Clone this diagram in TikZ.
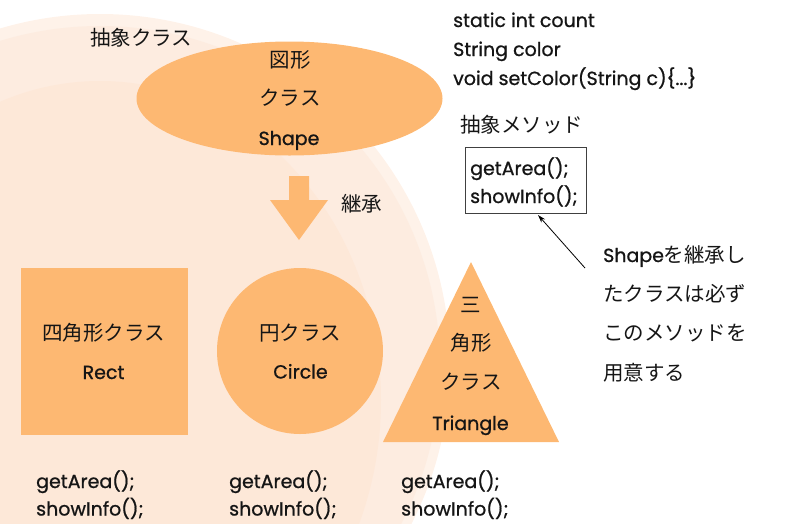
\documentclass[tikz,border=0pt]{standalone}
\usepackage{fontspec}
\setmainfont{Poppins}[FakeBold=0.9]
\newfontfamily\jpfont{Noto Sans CJK JP}
\usetikzlibrary{shapes.geometric,arrows.meta}

\definecolor{orng}{HTML}{FDB872}
\definecolor{rimlight}{HTML}{FEF2E9}
\definecolor{rimmid}{HTML}{FDECE0}
\definecolor{bginner}{HTML}{FDE8D8}
\definecolor{ink}{HTML}{151515}

\newcommand\latinsize{\fontsize{19}{19}\selectfont}
\newcommand\jpsize{\fontsize{20.5}{20.5}\selectfont\jpfont}

\tikzset{
  lbl/.style={inner sep=0pt, anchor=base west, text=ink, font=\latinsize},
  jlbl/.style={inner sep=0pt, anchor=base west, text=ink, font=\jpsize},
  inlbl/.style={inner sep=0pt, anchor=base, text=ink},
  clsfill/.style={fill=orng, draw=none},
  methodbox/.style={draw=black!75, line width=0.6pt, inner sep=0pt},
  pointer/.style={draw=black, line width=0.8pt, -{Stealth[length=8pt,width=5pt]}},
}

\begin{document}
\begin{tikzpicture}[x=1pt,y=-1pt]
  \useasboundingbox (0,0) rectangle (793,523);

  % background halo
  \begin{scope}
    \clip (0,0) rectangle (793,523);
    \fill[rimlight] (100,364) circle[radius=350pt];
    \fill[rimmid] (100,366) circle[radius=340pt];
    \fill[bginner] (100,400) ellipse[x radius=281pt, y radius=319pt];
  \end{scope}

  % abstract class
  \node[jlbl] (abstractlbl) at (90,45.5) {抽象クラス};
  \node[clsfill, ellipse, minimum width=306pt, minimum height=114pt, inner sep=0pt]
    (shape) at (289.5,98.5) {};
  \node[inlbl, font=\jpsize] (shapeA) at (290,67.5) {図形};
  \node[inlbl, font=\jpsize] (shapeB) at (290,105.5) {クラス};
  \node[inlbl, font=\latinsize] (shapeC) at (289,145) {Shape};

  % inheritance arrow
  \fill[orng] (289,176) -- (309,176) -- (309,200) -- (328,200) -- (299,240)
    -- (270,200) -- (289,200) -- cycle;
  \node[jlbl] (inherit) at (341,211) {継承};

  % members
  \node[lbl] (m1) at (453,27) {static int count};
  \node[lbl] (m2) at (453,56) {String color};
  \node[lbl] (m3) at (453,85) {void setColor(String c)\{...\}};

  \node[jlbl] (abstractmeth) at (460,132.5) {抽象メソッド};
  \node[methodbox, minimum width=121pt, minimum height=66pt] (box) at (525.5,180) {};
  \node[lbl] (b1) at (470,175) {getArea();};
  \node[lbl] (b2) at (470,203) {showInfo();};

  % note
  \node[lbl] (n1) at (603,262) {Shape{\jpsize を継承し}};
  \node[jlbl] (n2) at (603,301) {たクラスは必ず};
  \node[jlbl] (n3) at (603,340) {このメソッドを};
  \node[jlbl] (n4) at (603,380) {用意する};
  \coordinate (notetail) at (585,268);
  \coordinate (boxtip) at (538,215);
  \draw[pointer] (notetail) -- (boxtip);

  % subclasses
  \node[clsfill, rectangle, minimum width=167pt, minimum height=167pt, inner sep=0pt]
    (rect) at (104.5,351) {};
  \node[inlbl, font=\jpsize] (rectA) at (103.5,340.5) {四角形クラス};
  \node[inlbl, font=\latinsize] (rectB) at (103.5,379) {Rect};

  \node[clsfill, circle, minimum size=166pt, inner sep=0pt] (circ) at (300,351) {};
  \node[inlbl, font=\jpsize] (circA) at (300,340.5) {円クラス};
  \node[inlbl, font=\latinsize] (circB) at (300.5,378.5) {Circle};

  \fill[orng] (383,442) -- (559,442) -- (471,262) -- cycle;
  \node[inlbl, font=\jpsize] (triA) at (471,312.5) {三};
  \node[inlbl, font=\jpsize] (triB) at (471,350.5) {角形};
  \node[inlbl, font=\jpsize] (triC) at (471,389.5) {クラス};
  \node[inlbl, font=\latinsize] (triD) at (470.5,430) {Triangle};

  % methods each subclass provides
  \node[lbl] (r1) at (36,488) {getArea();};
  \node[lbl] (r2) at (36,515.5) {showInfo();};
  \node[lbl] (c1) at (229,488) {getArea();};
  \node[lbl] (c2) at (229,515.5) {showInfo();};
  \node[lbl] (t1) at (401,488) {getArea();};
  \node[lbl] (t2) at (401,515.5) {showInfo();};
\end{tikzpicture}
\end{document}
